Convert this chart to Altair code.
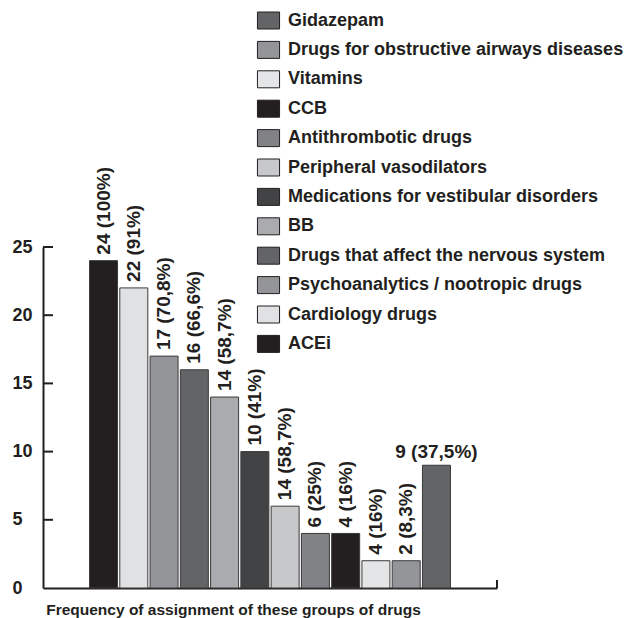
import altair as alt
import pandas as pd

categories = [
    "ACEi",
    "Cardiology drugs",
    "Psychoanalytics / nootropic drugs",
    "Drugs that affect the nervous system",
    "BB",
    "Medications for vestibular disorders",
    "Peripheral vasodilators",
    "Antithrombotic drugs",
    "CCB",
    "Vitamins",
    "Drugs for obstructive airways diseases",
    "Gidazepam",
]
values = [24, 22, 17, 16, 14, 10, 6, 4, 4, 2, 2, 9]
labels = [
    "24 (100%)", "22 (91%)", "17 (70,8%)", "16 (66,6%)", "14 (58,7%)", "10 (41%)",
    "14 (58,7%)", "6 (25%)", "4 (16%)", "4 (16%)", "2 (8,3%)", "9 (37,5%)",
]
label_rotated = [True, True, True, True, True, True, True, True, True, True, True, False]
bar_colors = [
    "#231f20", "#e0e1e3", "#939598", "#636466", "#a9abae", "#414344",
    "#c7c8ca", "#808285", "#231f20", "#e4e5e6", "#939598", "#636466",
]
y_tick_values = [0, 5, 10, 15, 20, 25]
inner_ticks = [5, 10, 15, 20, 25]

legend_order = list(reversed(categories))
color_of = dict(zip(categories, bar_colors))
legend_colors = [color_of[c] for c in legend_order]
x_domain = ["_gap_left"] + categories + ["_gap_right"]

df = pd.DataFrame({"drug": categories, "value": values, "label": labels, "rotated": label_rotated})
ticks_df = pd.DataFrame({"t": inner_ticks})

W, H = 454, 341
INK = "#231f20"
FONT = "Liberation Sans"

x_scale = alt.Scale(domain=x_domain, paddingInner=0.075, paddingOuter=0.5375)
y_scale = alt.Scale(domain=[0, 25], nice=False)

x_axis = alt.Axis(
    labels=False, ticks=False, domain=True, domainColor=INK, domainWidth=2,
    title="Frequency of assignment of these groups of drugs",
    titleFont=FONT, titleFontSize=15.5, titleFontWeight="bold", titleColor=INK,
    titleX=190, titleY=26, titleAlign="center", titleBaseline="alphabetic",
)
y_axis = alt.Axis(
    values=y_tick_values, tickSize=0, grid=False, title=None,
    labelAlign="left", labelBaseline="middle", labelPadding=31,
    labelFont=FONT, labelFontSize=18, labelFontWeight="bold", labelColor=INK,
    domainColor=INK, domainWidth=2,
)

X = alt.X("drug:N", scale=x_scale, axis=x_axis, title="Frequency of assignment of these groups of drugs")
Y = alt.Y("value:Q", scale=y_scale, axis=y_axis, title=None)

bars = alt.Chart(df).mark_bar(stroke="#3a3a3a", strokeWidth=1).encode(
    x=X,
    y=Y,
    color=alt.Color(
        "drug:N",
        scale=alt.Scale(domain=legend_order, range=legend_colors),
        legend=alt.Legend(
            title=None, orient="none", legendX=216.5, legendY=-235.5,
            symbolType="M-1.3,-1L1.3,-1L1.3,1L-1.3,1Z", symbolSize=289,
            symbolStrokeColor=INK, symbolStrokeWidth=1, symbolOpacity=1,
            labelFont=FONT, labelFontSize=18, labelFontWeight="bold", labelColor=INK,
            labelOffset=10.5, rowPadding=7.4, padding=0, labelLimit=400,
        ),
    ),
)

rot_text = alt.Chart(df).transform_filter("datum.rotated").mark_text(
    angle=270, align="left", baseline="middle", dx=6,
    font=FONT, fontSize=19, fontWeight="bold", color=INK,
).encode(x=X, y=Y, text="label:N")

flat_text = alt.Chart(df).transform_filter("!datum.rotated").mark_text(
    align="center", baseline="alphabetic", dy=-7,
    font=FONT, fontSize=19, fontWeight="bold", color=INK,
).encode(x=X, y=Y, text="label:N")

tick_rules = alt.Chart(ticks_df).mark_rule(color=INK, strokeWidth=2).encode(
    x=alt.value(0), x2=alt.value(10),
    y=alt.Y("t:Q", scale=y_scale, axis=y_axis, title=None),
)

end_tick = alt.Chart(ticks_df.head(1)).mark_rule(color=INK, strokeWidth=2).encode(
    x=alt.value(W), y=alt.value(H), y2=alt.value(H - 8),
)

chart = alt.layer(bars, rot_text, flat_text, tick_rules, end_tick).properties(
    width=W, height=H,
    autosize=alt.AutoSizeParams(type="none"),
    padding={"left": 35, "top": 239, "right": 127, "bottom": 30},
    background="white",
).configure_view(stroke=None)

chart.save("out.html", embed_options={"renderer": "svg", "actions": False})
